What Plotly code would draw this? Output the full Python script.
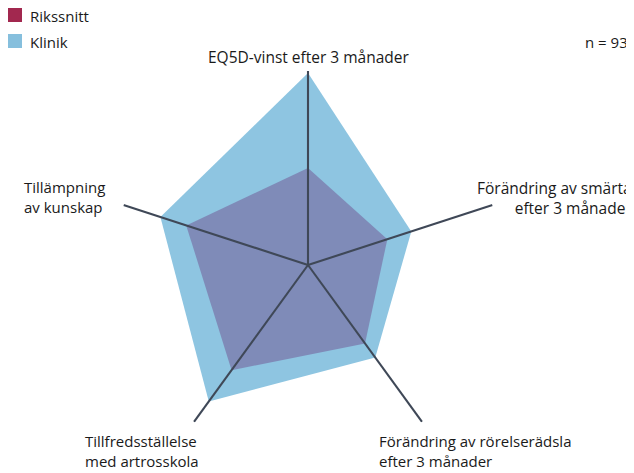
import plotly.graph_objects as go

W, H = 634, 473
OFF = 8  # page body margin in the browser

categories = [
    "EQ5D-vinst efter 3 månader",
    "Förändring av smärta efter 3 månader",
    "Förändring av rörelserädsla efter 3 månader",
    "Tillfredsställelse med artrosskola",
    "Tillämpning av kunskap",
]
klinik = [0.99, 0.56, 0.59, 0.87, 0.80]
rikssnitt = [0.50, 0.43, 0.50, 0.67, 0.66]
series_names = ["Rikssnitt", "Klinik"]
n_text = "n = 93"

C_KLINIK_FILL = "#8ec5e1"
C_RIKS_FILL = "#7f8bb8"
C_RIKS_LEG = "#a2284f"
C_KLINIK_LEG = "#86bfdd"
C_SPOKE = "#3f4857"
FONT = "Open Sans"
FS = 15
TXT = "#1a1a1a"


def px(x):
    return (x - OFF) / W


def py(y):
    return 1 - (y - OFF) / H


cx, cy, R = 308, 265, 194

fig = go.Figure()
fig.add_trace(go.Scatterpolar(r=klinik, theta=categories, fill="toself", mode="none",
                              fillcolor=C_KLINIK_FILL, name="Klinik", showlegend=False))
fig.add_trace(go.Scatterpolar(r=rikssnitt, theta=categories, fill="toself", mode="none",
                              fillcolor=C_RIKS_FILL, name="Rikssnitt", showlegend=False))
for cat in categories:
    fig.add_trace(go.Scatterpolar(r=[0, 1], theta=[cat, cat], mode="lines",
                                  line=dict(color=C_SPOKE, width=2.1), showlegend=False,
                                  hoverinfo="skip"))

fig.update_layout(
    width=W, height=H,
    margin=dict(l=0, r=0, t=0, b=0),
    paper_bgcolor="white",
    font=dict(family=FONT, size=FS, color=TXT),
    polar=dict(
        domain=dict(x=[px(cx - R), px(cx + R)], y=[py(cy + R), py(cy - R)]),
        bgcolor="rgba(0,0,0,0)",
        radialaxis=dict(range=[0, 1], visible=False, showgrid=False),
        angularaxis=dict(rotation=90, direction="clockwise", showgrid=False,
                         showline=False, showticklabels=False, ticks=""),
    ),
)

labels = [
    ("EQ5D-vinst efter 3 månader", 309, 57, "center", "center", 15.5),
    ("Förändring av smärta<br>efter 3 månader", 634, 198, "right", "right", 15.5),
    ("Förändring av rörelserädsla<br>efter 3 månader", 377, 451, "left", "left", FS),
    ("Tillfredsställelse<br>med artrosskola", 83, 451, "left", "left", FS),
    ("Tillämpning<br>av kunskap", 22, 197, "left", "left", FS),
    (n_text, 630, 42, "right", "right", FS),
]
for text, x, y, xa, al, fs in labels:
    fig.add_annotation(text=text, x=px(x), y=py(y), xref="paper", yref="paper",
                       xanchor=xa, yanchor="middle", align=al, showarrow=False,
                       font=dict(family=FONT, size=fs, color=TXT))

# legend
leg_colors = [C_RIKS_LEG, C_KLINIK_LEG]
for i, (name, col) in enumerate(zip(series_names, leg_colors)):
    yc = 15 + 26 * i
    fig.add_shape(type="rect", xref="paper", yref="paper",
                  x0=px(8), x1=px(22), y0=py(yc - 7), y1=py(yc + 7),
                  fillcolor=col, line=dict(width=0))
    fig.add_annotation(text=name, x=px(28), y=py(yc + 1), xref="paper", yref="paper",
                       xanchor="left", yanchor="middle", showarrow=False,
                       font=dict(family=FONT, size=FS, color=TXT))

fig.write_html("out.html")
